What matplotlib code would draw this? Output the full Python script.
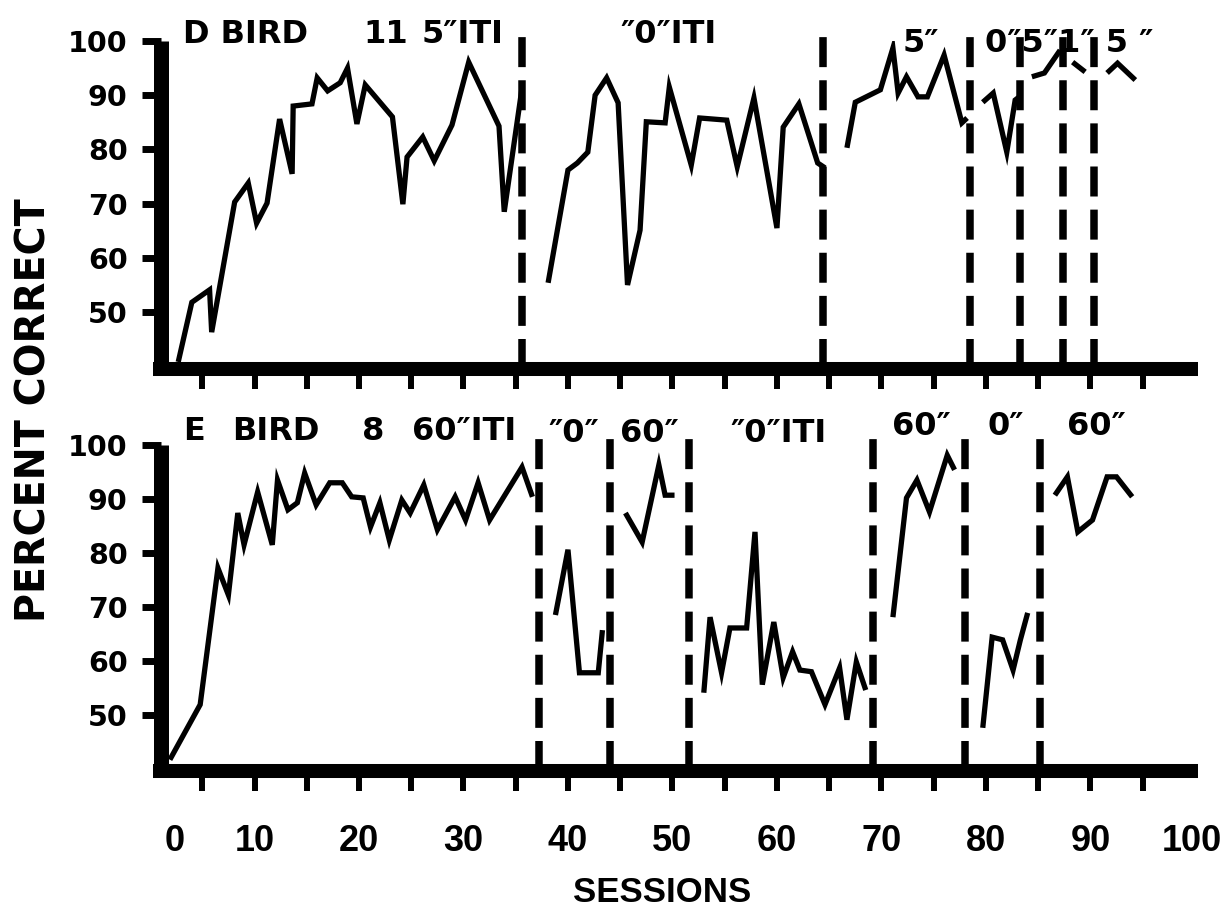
import matplotlib.pyplot as plt
from matplotlib.ticker import FixedLocator

# panel D, bird 11: one list per stretch between condition changes
d_sessions = [
    [2.7, 4.0, 5.7, 5.9, 8.1, 9.4, 10.2, 11.2, 12.4, 13.6, 13.7, 15.5, 16.0, 17.0,
     18.2, 18.9, 19.8, 20.6, 23.2, 24.2, 24.6, 26.1, 27.2, 28.9, 30.5, 33.4, 33.9, 35.6],
    [38.1, 40.0, 40.9, 41.9, 42.6, 43.7, 44.8, 45.7, 46.9, 47.5, 49.3, 49.7, 51.8,
     52.6, 55.2, 56.2, 57.8, 60.0, 60.6, 62.1, 63.9, 64.6],
    [66.7, 67.5, 69.9, 71.1, 71.6, 72.4, 73.5, 74.4, 76.0, 77.7, 78.2],
    [79.7, 80.7, 82.0, 82.8, 83.4],
    [84.4, 85.6, 87.1],
    [88.3, 89.5],
    [91.6, 92.6, 94.3],
]
d_percent = [
    [40.8, 51.8, 54.1, 46.3, 70.3, 73.8, 66.4, 70.1, 85.6, 75.5, 88.0, 88.4, 93.2, 90.8,
     92.3, 95.0, 84.7, 91.9, 86.0, 69.9, 78.6, 82.3, 77.9, 84.5, 96.1, 84.3, 68.5, 91.3],
    [55.4, 76.2, 77.5, 79.5, 90.0, 93.2, 88.6, 55.0, 65.1, 85.1, 84.9, 91.5, 77.1,
     85.8, 85.4, 76.8, 89.5, 65.5, 84.1, 88.4, 77.5, 76.6],
    [80.3, 88.7, 91.0, 98.7, 90.4, 93.4, 89.7, 89.7, 97.4, 84.9, 85.8],
    [88.7, 90.4, 79.5, 89.1, 90.0],
    [93.4, 94.1, 98.3],
    [96.1, 94.3],
    [94.1, 95.9, 92.8],
]
d_changes = [35.6, 64.4, 78.5, 83.3, 87.4, 90.3]

# panel E, bird 8
e_sessions = [
    [1.9, 4.8, 6.5, 7.5, 8.4, 9.0, 10.3, 11.7, 12.2, 13.2, 14.1, 14.8, 15.9, 17.2, 18.4,
     19.3, 20.4, 21.1, 22.0, 22.9, 24.1, 24.9, 26.2, 27.5, 29.2, 30.2, 31.4, 32.5, 35.6, 36.6],
    [38.8, 40.0, 41.1, 42.9, 43.3],
    [45.5, 47.1, 48.7, 49.3, 50.2],
    [53.0, 53.6, 54.7, 55.5, 57.1, 57.9, 58.6, 59.7, 60.6, 61.5, 62.2, 63.3, 64.6,
     66.0, 66.7, 67.6, 68.5],
    [71.1, 72.4, 73.4, 74.6, 76.3, 77.0],
    [79.7, 80.6, 81.6, 82.6, 83.3, 84.0],
    [86.6, 87.8, 88.8, 90.2, 91.6, 92.5, 94.0],
]
e_percent = [
    [41.7, 51.9, 77.2, 72.2, 87.4, 81.5, 91.3, 81.5, 93.5, 88.0, 89.3, 94.8, 88.9, 93.0, 93.0,
     90.4, 90.2, 84.8, 89.3, 82.4, 89.8, 87.4, 92.6, 84.3, 90.4, 86.1, 93.0, 86.1, 95.9, 90.4],
    [68.5, 80.6, 57.8, 57.8, 65.7],
    [87.4, 82.0, 96.3, 90.7, 90.7],
    [54.1, 68.1, 57.8, 66.1, 66.1, 83.9, 55.6, 67.2, 56.9, 61.7, 58.3, 58.0, 51.9,
     58.7, 49.1, 59.8, 54.6],
    [68.1, 90.2, 93.5, 87.6, 98.1, 95.4],
    [47.6, 64.4, 63.9, 58.3, 63.9, 68.9],
    [90.7, 94.1, 83.9, 86.1, 94.1, 94.1, 90.4],
]
e_changes = [37.2, 44.0, 51.6, 69.2, 78.0, 85.2]

# condition labels written over each panel
d_labels = ["D BIRD", "11", "5\u2033ITI", "\u20330\u2033ITI", "5\u2033", "0\u20335\u20331\u2033 5 \u2033"]
d_label_x = [3.2, 20.4, 26.0, 45.0, 72.0, 79.9]
d_label_y = [99.6, 99.6, 99.6, 99.6, 98.0, 98.0]
e_labels = ["E", "BIRD", "8", "60\u2033ITI", "\u20330\u2033", "60\u2033", "\u20330\u2033ITI", "60\u2033", "0\u2033", "60\u2033"]
e_label_x = [3.2, 7.9, 20.3, 25.1, 38.1, 45.0, 55.5, 71.0, 80.2, 87.8]
e_label_y = [100.9, 100.9, 100.9, 100.9, 100.6, 100.6, 100.6, 101.9, 101.9, 101.9]

y_ticks = [50, 60, 70, 80, 90, 100]
x_tick_marks = list(range(5, 100, 5))
x_label_pos = [2.4, 10, 20, 30, 40, 50, 60, 70, 80, 90, 99.7]
x_labels = ["0", "10", "20", "30", "40", "50", "60", "70", "80", "90", "100"]

BOLD = dict(family="DejaVu Sans", weight="bold")
NARROW = dict(family=["Liberation Sans", "DejaVu Sans"], weight="bold")

fig = plt.figure(figsize=(12.25, 9.17), dpi=100)
W, H = 1225, 917
ax_top = fig.add_axes([161 / W, (H - 369) / H, 1037 / W, 328 / H])
ax_bot = fig.add_axes([161 / W, (H - 771) / H, 1037 / W, 326 / H])


def draw_panel(ax, sessions, percent, changes, ylo, labels, lx, ly, show_x):
    for xs, ys in zip(sessions, percent):
        ax.plot(xs, ys, color="black", lw=3.8, solid_joinstyle="miter", solid_capstyle="butt")
    vl = ax.vlines(changes, ylo, 101.2, colors="black", linewidth=5.4,
                   linestyles=(0, (4.0, 1.75)), clip_on=False)
    vl.set_capstyle("butt")
    for t, x, y in zip(labels, lx, ly):
        ax.text(x, y, t, ha="left", va="baseline", fontsize=23, clip_on=False, **BOLD)

    ax.set_xlim(1.05, 100.3)
    ax.set_ylim(ylo, 100)
    for s in ["top", "right"]:
        ax.spines[s].set_visible(False)
    ax.spines["left"].set_linewidth(10.8)
    ax.spines["bottom"].set_linewidth(10.1)
    ax.spines["bottom"].set_bounds(0.33, 100.3)
    ax.spines["left"].set_capstyle("butt")
    ax.spines["bottom"].set_capstyle("butt")

    ax.yaxis.set_major_locator(FixedLocator(y_ticks))
    ax.set_yticklabels([str(v) for v in y_ticks])
    ax.tick_params(axis="y", length=14, width=5, pad=10, labelsize=20.5)
    for lab in ax.get_yticklabels():
        lab.set_fontweight("bold")
        lab.set_family("DejaVu Sans")

    ax.xaxis.remove_overlapping_locs = False
    ax.xaxis.set_minor_locator(FixedLocator(x_tick_marks))
    ax.tick_params(axis="x", which="minor", length=14.4, width=4.3)
    ax.set_xticks(x_label_pos)
    if show_x:
        ax.set_xticklabels(x_labels)
        ax.tick_params(axis="x", which="major", length=0, pad=38, labelsize=26)
        for lab in ax.get_xticklabels():
            lab.set_fontweight("bold")
            lab.set_family(["Liberation Sans", "DejaVu Sans"])
    else:
        ax.tick_params(axis="x", which="major", length=0, labelbottom=False)


draw_panel(ax_top, d_sessions, d_percent, d_changes, 39.5, d_labels, d_label_x, d_label_y, False)
draw_panel(ax_bot, e_sessions, e_percent, e_changes, 39.6, e_labels, e_label_x, e_label_y, True)

fig.text(662 / W, 1 - 893 / H, "SESSIONS", ha="center", va="center", fontsize=25, **NARROW)
fig.text(35 / W, 1 - 410 / H, "PERCENT CORRECT", ha="center", va="center", rotation=90,
         fontsize=28.5, **BOLD)

fig.savefig("out.png", dpi=100, facecolor="white")
